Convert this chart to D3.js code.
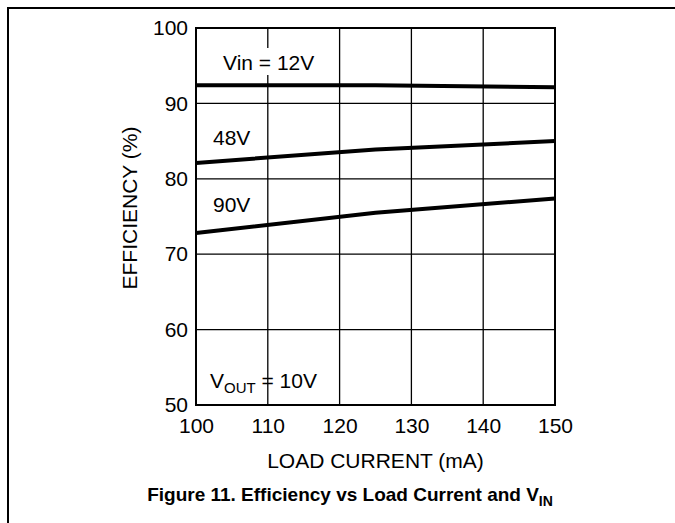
<!DOCTYPE html>
<html><head><meta charset="utf-8">
<script src="https://cdn.jsdelivr.net/npm/d3@7"></script>
<style>body{margin:0;background:#fff}text{font-family:"Liberation Sans",Arial,sans-serif}</style>
</head><body>
<svg id="c" width="675" height="523"></svg>
<script>
const loadCurrent = [100, 125, 150];
const eff12 = [92.4, 92.4, 92.15];
const eff48 = [82.1, 83.9, 85.0];
const eff90 = [72.8, 75.5, 77.4];
const xTicks = [100, 110, 120, 130, 140, 150];
const yTicks = [50, 60, 70, 80, 90, 100];
const seriesLabels = ["Vin = 12V", "48V", "90V"];

const svg = d3.select("#c");
const L = 196, R = 555, T = 28, B = 405;
const FS = 21;
const x = d3.scaleLinear().domain([100, 150]).range([L, R]);
const y = d3.scaleLinear().domain([50, 100]).range([B, T]);

// outer frame
svg.append("path").attr("d", `M8,523 L8,8 L675,8`).attr("fill", "none").attr("stroke", "#000").attr("stroke-width", 2);

// grid
svg.append("g").selectAll("line").data(xTicks).join("line")
  .attr("x1", d => x(d)).attr("x2", d => x(d)).attr("y1", T).attr("y2", B)
  .attr("stroke", "#000").attr("stroke-width", 1.3);
svg.append("g").selectAll("line").data(yTicks).join("line")
  .attr("y1", d => y(d)).attr("y2", d => y(d)).attr("x1", L).attr("x2", R)
  .attr("stroke", "#000").attr("stroke-width", 1.3);
svg.append("rect").attr("x", L).attr("y", T).attr("width", R - L).attr("height", B - T)
  .attr("fill", "none").attr("stroke", "#000").attr("stroke-width", 2);

// axes tick labels
const xAxis = d3.axisBottom(x).tickValues(xTicks).tickSize(0).tickPadding(13);
const gx = svg.append("g").attr("transform", `translate(0,${B})`).call(xAxis);
gx.select(".domain").remove();
gx.selectAll("text").attr("font-size", FS).attr("fill", "#000").attr("font-family", "Liberation Sans, Arial, sans-serif");
const yAxis = d3.axisLeft(y).tickValues(yTicks).tickSize(0).tickPadding(8);
const gy = svg.append("g").attr("transform", `translate(${L},0)`).call(yAxis);
gy.select(".domain").remove();
gy.selectAll("text").attr("font-size", FS).attr("fill", "#000").attr("font-family", "Liberation Sans, Arial, sans-serif");

// lines
const line = d3.line().x((d, i) => x(loadCurrent[i])).y(d => y(d));
[eff12, eff48, eff90].forEach(s => {
  svg.append("path").datum(s).attr("d", line).attr("fill", "none")
    .attr("stroke", "#000").attr("stroke-width", 4);
});

// series labels
const bgG = svg.append("g");
const labG = svg.append("g");
const lab = [[223, 70], [213, 145], [213, 212]];
seriesLabels.forEach((t, i) => {
  const tx = labG.append("text").attr("x", lab[i][0]).attr("y", lab[i][1])
    .attr("font-size", FS).text(t);
  if (i === 0) {
    const bb = tx.node().getBBox();
    bgG.append("rect").attr("x", bb.x - 3).attr("y", bb.y - 3)
      .attr("width", bb.width + 6).attr("height", bb.height + 4).attr("fill", "#fff");
  }
});
const vo = labG.append("text").attr("x", 210).attr("y", 388).attr("font-size", FS);
vo.append("tspan").text("V");
vo.append("tspan").attr("font-size", 15).attr("dy", 5).text("OUT");
vo.append("tspan").attr("dy", -5).text(" = 10V");

// axis titles
svg.append("text").attr("x", (L + R) / 2).attr("y", 468).attr("text-anchor", "middle")
  .attr("font-size", FS).text("LOAD CURRENT (mA)");
svg.append("text").attr("transform", `translate(137,208) rotate(-90)`)
  .attr("text-anchor", "middle").attr("font-size", FS).text("EFFICIENCY (%)");

const ti = svg.append("text").attr("x", 350).attr("y", 501).attr("text-anchor", "middle")
  .attr("font-size", 19).attr("font-weight", "bold");
ti.append("tspan").text("Figure 11. Efficiency vs Load Current and V");
ti.append("tspan").attr("font-size", 14).attr("dy", 5).text("IN");
</script>
</body></html>
